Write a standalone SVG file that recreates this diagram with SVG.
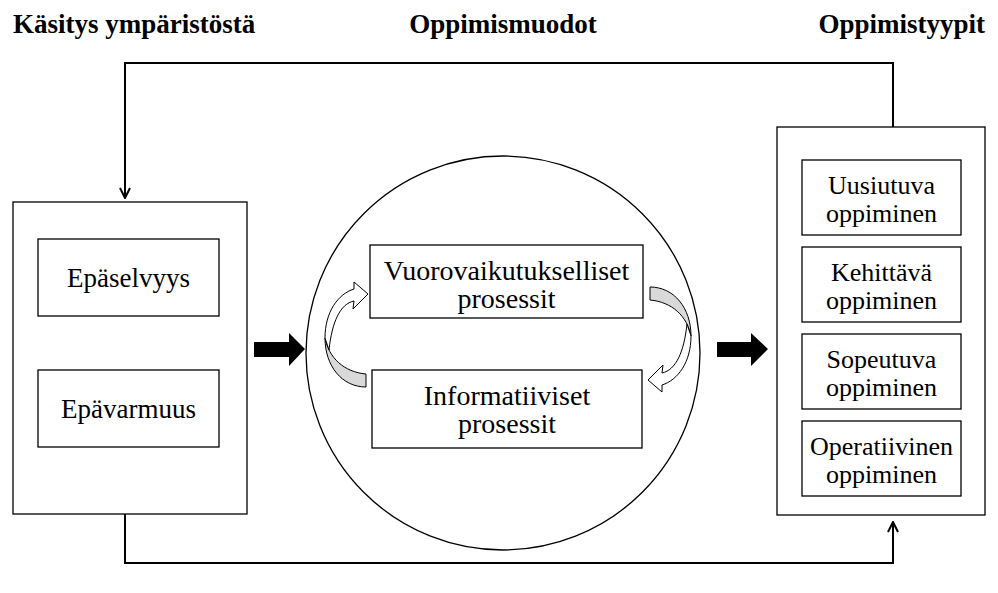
<svg xmlns="http://www.w3.org/2000/svg" xmlns:xlink="http://www.w3.org/1999/xlink" width="998" height="593" viewBox="0 0 998 593">
<style>
.box{fill:#fff;stroke:#000;stroke-width:1.3}
.t{font-family:"Liberation Serif","Times New Roman",Times,"DejaVu Serif",serif;font-size:26px;fill:#000;text-anchor:middle}
.tc{font-size:28px}
.tl{font-size:27px}
.h{font-family:"Liberation Serif","Times New Roman",Times,"DejaVu Serif",serif;font-size:27px;font-weight:bold;fill:#000}
.conn{fill:none;stroke:#000;stroke-width:2}
.blk{fill:#000}
</style>
<defs>
<marker id="open" viewBox="0 0 12 12" refX="11" refY="6" markerWidth="12" markerHeight="12" markerUnits="userSpaceOnUse" orient="auto">
<path d="M1,1 L11,6 L1,11" fill="none" stroke="#000" stroke-width="2"/>
</marker>
<g id="curl">
<path d="M366,374 L366,387 C342,387 325,366 325,338 C329,358 344,372 366,374 Z" fill="#d9d9d9" stroke="#000" stroke-width="1"/>
<path d="M325,338 C325,312 338,294 354,289 L354,282 L368,294 L353,309 L354,301 C340,304 332,322 329,350 Z" fill="#fff" stroke="#000" stroke-width="1"/>
</g>
</defs>

<text class="h" x="13" y="33">Käsitys ympäristöstä</text>
<text class="h" x="503" y="33" text-anchor="middle">Oppimismuodot</text>
<text class="h" x="985" y="33" text-anchor="end">Oppimistyypit</text>

<g id="connectors">
<path class="conn" d="M893,127 V63 H125 V198" marker-end="url(#open)"/>
<path class="conn" d="M125,514 V563 H893 V522" marker-end="url(#open)"/>
<path class="blk" d="M254,342 H289 V333 L305,349 L289,366 V357 H254 Z"/>
<path class="blk" d="M717,342 H751 V333 L768,349 L751,366 V357 H717 Z"/>
</g>

<g id="left-panel">
<rect class="box" x="13" y="202" width="234" height="312"/>
</g>
<g id="n-epaselvyys">
<rect class="box" x="38" y="239" width="181" height="77"/>
<text class="t tl" x="128.5" y="287">Epäselvyys</text>
</g>
<g id="n-epavarmuus">
<rect class="box" x="38" y="370" width="181" height="77"/>
<text class="t tl" x="128.5" y="418">Epävarmuus</text>
</g>

<g id="circle-panel">
<circle cx="503" cy="353" r="197" fill="#fff" stroke="#000" stroke-width="1.3"/>
</g>
<g id="n-vuoro">
<rect class="box" x="370" y="245" width="273" height="73"/>
<text class="t tc" x="506.5" y="280">Vuorovaikutukselliset</text>
<text class="t tc" x="506.5" y="308">prosessit</text>
</g>
<g id="n-info">
<rect class="box" x="372" y="370" width="270" height="78"/>
<text class="t tc" x="507" y="405">Informatiiviset</text>
<text class="t tc" x="507" y="433">prosessit</text>
</g>
<g id="curved-arrows">
<use xlink:href="#curl"/>
<use xlink:href="#curl" transform="rotate(180 508 337)"/>
</g>

<g id="right-panel">
<rect class="box" x="777" y="127" width="208" height="388"/>
</g>
<g id="n-uusiutuva">
<rect class="box" x="802" y="160" width="159" height="75"/>
<text class="t" x="881.5" y="194">Uusiutuva</text>
<text class="t" x="881.5" y="222">oppiminen</text>
</g>
<g id="n-kehittava">
<rect class="box" x="802" y="247" width="159" height="75"/>
<text class="t" x="881.5" y="281">Kehittävä</text>
<text class="t" x="881.5" y="309">oppiminen</text>
</g>
<g id="n-sopeutuva">
<rect class="box" x="802" y="334" width="159" height="75"/>
<text class="t" x="881.5" y="368">Sopeutuva</text>
<text class="t" x="881.5" y="396">oppiminen</text>
</g>
<g id="n-operatiivinen">
<rect class="box" x="802" y="421" width="159" height="75"/>
<text class="t" x="881.5" y="455">Operatiivinen</text>
<text class="t" x="881.5" y="483">oppiminen</text>
</g>
</svg>
